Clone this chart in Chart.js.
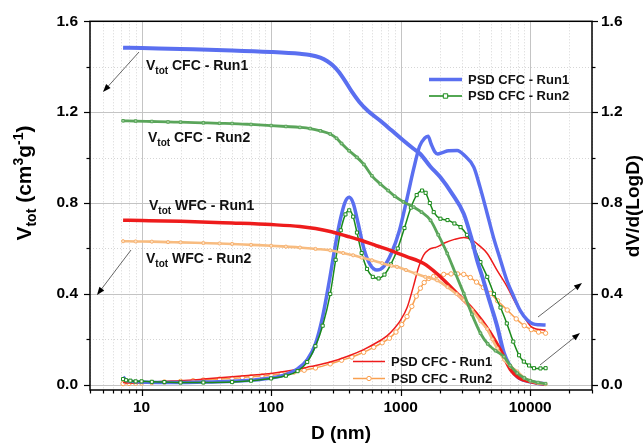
<!DOCTYPE html>
<html>
<head>
<meta charset="utf-8">
<script src="https://cdn.jsdelivr.net/npm/chart.js@4.4.0/dist/chart.umd.min.js"></script>
<style>
body { margin: 0; background: #fff; }
canvas { display: block; }
</style>
</head>
<body>
<canvas id="psdChart" width="644" height="445"></canvas>
<script>
// x tick labels (log axis, nm)
const xTickLabels = [10, 100, 1000, 10000];
const yTickLabels = [0, 0.4, 0.8, 1.2, 1.6];

// cumulative volume, CFC run 1 (blue, left axis)
const cumCfc1D = [7.2, 10, 20, 50, 100, 167, 200, 240, 270, 300, 330, 370, 420, 480, 560, 697, 850, 1050, 1250, 1419, 1700, 2028, 2500, 3070, 3500, 3890, 4300, 4660, 5100, 5570, 6270, 7000, 7950, 9000, 10000, 11500, 13150];
const cumCfc1V = [1.484, 1.482, 1.478, 1.472, 1.465, 1.457, 1.452, 1.44, 1.425, 1.405, 1.38, 1.34, 1.29, 1.245, 1.205, 1.162, 1.12, 1.075, 1.04, 1.016, 0.96, 0.913, 0.84, 0.753, 0.65, 0.548, 0.47, 0.402, 0.33, 0.256, 0.139, 0.08, 0.036, 0.02, 0.014, 0.007, 0.003];

// cumulative volume, CFC run 2 (green, left axis)
const cumCfc2D = [7.2, 9, 12, 16, 20, 30, 40, 50, 70, 100, 130, 167, 200, 240, 286, 320, 350, 400, 460, 520, 600, 697, 800, 900, 1050, 1262, 1450, 1700, 1950, 2290, 2650, 3070, 3550, 4130, 4700, 5400, 6270, 7000, 7950, 9000, 10000, 11500, 13150];
const cumCfc2V = [1.162, 1.161, 1.159, 1.157, 1.156, 1.153, 1.151, 1.15, 1.146, 1.141, 1.137, 1.133, 1.128, 1.118, 1.104, 1.085, 1.062, 1.03, 1.001, 0.97, 0.92, 0.884, 0.855, 0.83, 0.805, 0.782, 0.76, 0.724, 0.66, 0.578, 0.49, 0.402, 0.31, 0.227, 0.18, 0.15, 0.124, 0.085, 0.051, 0.03, 0.018, 0.01, 0.005];

// cumulative volume, WFC run 1 (red, left axis)
const cumWfc1D = [7.2, 10, 20, 50, 100, 167, 220, 286, 380, 500, 650, 832, 1100, 1507, 1900, 2290, 2800, 3460, 4200, 4940, 5900, 7050, 8200, 10000, 11500, 13150];
const cumWfc1V = [0.724, 0.723, 0.72, 0.712, 0.705, 0.697, 0.688, 0.675, 0.655, 0.635, 0.612, 0.592, 0.565, 0.534, 0.49, 0.446, 0.395, 0.343, 0.285, 0.227, 0.153, 0.066, 0.03, 0.014, 0.007, 0.003];

// cumulative volume, WFC run 2 (orange, left axis)
const cumWfc2D = [7.2, 9, 12, 16, 20, 30, 40, 50, 70, 100, 130, 167, 220, 286, 360, 430, 500, 600, 720, 850, 937, 1100, 1300, 1550, 1910, 2300, 2700, 3070, 3550, 4130, 4660, 5100, 5570, 6300, 7100, 7950, 9000, 10000, 11500, 13150];
const cumWfc2V = [0.632, 0.631, 0.63, 0.628, 0.627, 0.624, 0.622, 0.62, 0.616, 0.612, 0.608, 0.604, 0.598, 0.592, 0.58, 0.57, 0.56, 0.548, 0.535, 0.524, 0.519, 0.505, 0.49, 0.475, 0.46, 0.43, 0.4, 0.373, 0.33, 0.28, 0.245, 0.2, 0.16, 0.11, 0.08, 0.058, 0.03, 0.018, 0.008, 0.003];

// pore size distribution, blue (right axis)
const psdCfc1D = [7.2, 7.6, 8.5, 10, 15, 20, 30, 50, 70, 100, 130, 160, 190, 220, 250, 280, 310, 340, 370, 400, 430, 470, 520, 580, 656, 740, 850, 980, 1120, 1260, 1400, 1530, 1629, 1720, 1840, 1933, 2100, 2350, 2730, 3100, 3670, 4100, 4660, 5200, 5900, 6600, 7480, 8400, 9500, 10500, 11800, 13150];
const psdCfc1V = [0.035, 0.02, 0.015, 0.012, 0.01, 0.01, 0.012, 0.015, 0.02, 0.03, 0.045, 0.07, 0.11, 0.18, 0.3, 0.45, 0.6, 0.72, 0.8, 0.825, 0.8, 0.71, 0.6, 0.53, 0.505, 0.52, 0.58, 0.68, 0.82, 0.95, 1.05, 1.085, 1.094, 1.06, 1.025, 1.016, 1.022, 1.03, 1.031, 1.01, 0.958, 0.87, 0.753, 0.65, 0.548, 0.46, 0.387, 0.325, 0.285, 0.268, 0.264, 0.263];

// pore size distribution, green (right axis)
const psdCfc2D = [7.2, 7.6, 8.2, 9, 10, 12, 15, 20, 30, 50, 70, 100, 130, 160, 190, 220, 250, 286, 315, 345, 375, 401, 430, 460, 500, 550, 610, 676, 750, 840, 950, 1070, 1200, 1330, 1463, 1560, 1680, 1800, 2028, 2300, 2600, 2900, 3250, 3670, 4130, 4660, 5250, 5900, 6600, 7400, 8200, 8930, 9800, 10700, 12000, 13150];
const psdCfc2V = [0.025, 0.02, 0.018, 0.015, 0.015, 0.013, 0.012, 0.01, 0.01, 0.012, 0.018, 0.028, 0.04, 0.06, 0.1, 0.17, 0.26, 0.4, 0.55, 0.68, 0.75, 0.768, 0.74, 0.67, 0.58, 0.51, 0.475, 0.468, 0.485, 0.53, 0.6, 0.69, 0.78, 0.835, 0.855, 0.845, 0.8, 0.76, 0.731, 0.725, 0.71, 0.694, 0.66, 0.607, 0.54, 0.475, 0.4, 0.34, 0.27, 0.19, 0.13, 0.102, 0.085, 0.073, 0.072, 0.073];

// pore size distribution, red (right axis)
const psdWfc1D = [7.2, 8, 10, 15, 20, 30, 50, 70, 100, 150, 200, 286, 400, 518, 650, 785, 900, 1000, 1122, 1250, 1380, 1500, 1650, 1910, 2200, 2600, 3070, 3500, 4000, 4660, 5600, 6650, 7700, 8930, 10000, 10700, 12000, 13150];
const psdWfc1V = [0.01, 0.008, 0.01, 0.015, 0.018, 0.025, 0.035, 0.042, 0.05, 0.065, 0.08, 0.1, 0.128, 0.155, 0.185, 0.215, 0.25, 0.285, 0.34, 0.43, 0.52, 0.57, 0.595, 0.607, 0.625, 0.64, 0.648, 0.64, 0.615, 0.578, 0.5, 0.431, 0.36, 0.3, 0.26, 0.249, 0.243, 0.241];

// pore size distribution, orange (right axis)
const psdWfc2D = [7.2, 8, 9, 10, 12, 15, 20, 25, 30, 40, 50, 60, 70, 85, 100, 120, 150, 180, 220, 286, 350, 420, 518, 620, 720, 820, 920, 1020, 1120, 1220, 1320, 1420, 1520, 1650, 1800, 1910, 2150, 2450, 2750, 3070, 3450, 3850, 4350, 4940, 5600, 6650, 7800, 9000, 10200, 11600, 13150];
const psdWfc2V = [0.005, 0.006, 0.007, 0.008, 0.01, 0.012, 0.015, 0.018, 0.021, 0.025, 0.028, 0.032, 0.035, 0.039, 0.042, 0.048, 0.056, 0.064, 0.074, 0.092, 0.108, 0.122, 0.143, 0.165, 0.185, 0.205, 0.232, 0.265, 0.3, 0.345, 0.39, 0.425, 0.45, 0.468, 0.477, 0.482, 0.486, 0.488, 0.488, 0.486, 0.472, 0.452, 0.428, 0.402, 0.37, 0.329, 0.29, 0.26, 0.243, 0.232, 0.227];

function pts(xs, ys) {
    return xs.map((x, i) => ({ x: x, y: ys[i] }));
}

const FONT = 'Arial, "Liberation Sans", sans-serif';

function drawRich(ctx, parts, x, y, align) {
    // parts: [text, size, dy]
    let w = 0;
    parts.forEach(p => {
        ctx.font = 'bold ' + p[1] + 'px ' + FONT;
        w += ctx.measureText(p[0]).width;
    });
    let cx = align === 'center' ? x - w / 2 : x;
    ctx.textAlign = 'left';
    ctx.textBaseline = 'alphabetic';
    parts.forEach(p => {
        ctx.font = 'bold ' + p[1] + 'px ' + FONT;
        ctx.fillText(p[0], cx, y + p[2]);
        cx += ctx.measureText(p[0]).width;
    });
}

function arrow(ctx, x1, y1, x2, y2) {
    const ang = Math.atan2(y2 - y1, x2 - x1);
    ctx.strokeStyle = '#555';
    ctx.lineWidth = 0.9;
    ctx.beginPath();
    ctx.moveTo(x1, y1);
    ctx.lineTo(x2 - 5 * Math.cos(ang), y2 - 5 * Math.sin(ang));
    ctx.stroke();
    ctx.fillStyle = '#000';
    ctx.beginPath();
    ctx.moveTo(x2, y2);
    ctx.lineTo(x2 - 8 * Math.cos(ang) + 3 * Math.sin(ang), y2 - 8 * Math.sin(ang) - 3 * Math.cos(ang));
    ctx.lineTo(x2 - 8 * Math.cos(ang) - 3 * Math.sin(ang), y2 - 8 * Math.sin(ang) + 3 * Math.cos(ang));
    ctx.closePath();
    ctx.fill();
}

function legendRow(ctx, ds, x1, x2, y, label) {
    ctx.save();
    ctx.strokeStyle = ds.borderColor;
    ctx.lineWidth = ds.borderWidth;
    ctx.beginPath();
    ctx.moveTo(x1, y);
    ctx.lineTo(x2, y);
    ctx.stroke();
    if (ds.pointRadius > 0) {
        const mx = (x1 + x2) / 2, r = 2.2;
        ctx.fillStyle = '#fff';
        ctx.lineWidth = 1;
        ctx.beginPath();
        if (ds.pointStyle === 'rect') ctx.rect(mx - r, y - r, 2 * r, 2 * r);
        else ctx.arc(mx, y, r, 0, Math.PI * 2);
        ctx.fill();
        ctx.stroke();
    }
    ctx.fillStyle = '#111';
    ctx.font = 'bold 13px ' + FONT;
    ctx.textBaseline = 'middle';
    ctx.textAlign = 'left';
    ctx.fillText(label, x2 + 6, y + 0.5);
    ctx.restore();
}

const decor = {
    id: 'decor',
    beforeDatasetsDraw(chart) {
        const ctx = chart.ctx, a = chart.chartArea;
        const xs = chart.scales.x, ys = chart.scales.y;
        ctx.save();
        ctx.lineWidth = 1;
        // minor grid, dotted
        ctx.strokeStyle = '#d6d6d6';
        ctx.setLineDash([1, 2]);
        for (let e = 0; e <= 4; e++) {
            for (let m = 2; m <= 9; m++) {
                const v = m * Math.pow(10, e);
                if (v < 4 || v > 30000) continue;
                const px = Math.round(xs.getPixelForValue(v)) + 0.5;
                ctx.beginPath(); ctx.moveTo(px, a.top); ctx.lineTo(px, a.bottom); ctx.stroke();
            }
        }
        [0.2, 0.6, 1.0, 1.4].forEach(v => {
            const py = Math.round(ys.getPixelForValue(v)) + 0.5;
            ctx.beginPath(); ctx.moveTo(a.left, py); ctx.lineTo(a.right, py); ctx.stroke();
        });
        // major grid
        ctx.setLineDash([]);
        ctx.strokeStyle = '#c4c4c4';
        xTickLabels.forEach(v => {
            const px = Math.round(xs.getPixelForValue(v)) + 0.5;
            ctx.beginPath(); ctx.moveTo(px, a.top); ctx.lineTo(px, a.bottom); ctx.stroke();
        });
        [0, 0.4, 0.8, 1.2].forEach(v => {
            const py = Math.round(ys.getPixelForValue(v)) + 0.5;
            ctx.beginPath(); ctx.moveTo(a.left, py); ctx.lineTo(a.right, py); ctx.stroke();
        });
        ctx.restore();
    },
    afterDraw(chart) {
        const ctx = chart.ctx, a = chart.chartArea;
        const xs = chart.scales.x, ys = chart.scales.y;
        const ds = chart.data.datasets;
        ctx.save();
        // frame
        ctx.strokeStyle = '#000';
        ctx.lineWidth = 1.5;
        ctx.strokeRect(a.left, a.top, a.right - a.left, a.bottom - a.top);
        ctx.lineWidth = 1.2;
        // x ticks
        for (let e = 0; e <= 4; e++) {
            for (let m = 1; m <= 9; m++) {
                const v = m * Math.pow(10, e);
                if (v < 4 || v > 30000) continue;
                const px = Math.round(xs.getPixelForValue(v)) + 0.5;
                const len = m === 1 ? 6 : 3.5;
                ctx.beginPath(); ctx.moveTo(px, a.bottom); ctx.lineTo(px, a.bottom + len); ctx.stroke();
            }
        }
        // y ticks both sides
        for (let i = 0; i <= 8; i++) {
            const v = i * 0.2;
            const py = Math.round(ys.getPixelForValue(v)) + 0.5;
            const len = i % 2 === 0 ? 6 : 3.5;
            ctx.beginPath(); ctx.moveTo(a.left - len, py); ctx.lineTo(a.left, py); ctx.stroke();
            ctx.beginPath(); ctx.moveTo(a.right, py); ctx.lineTo(a.right + len, py); ctx.stroke();
        }
        ctx.fillStyle = '#000';
        // axis titles
        ctx.save();
        ctx.translate(24, 183);
        ctx.rotate(-Math.PI / 2);
        drawRich(ctx, [['V', 21, 0], ['tot', 14, 5], [' (cm', 21, 0], ['3', 14, -8], ['g', 21, 0], ['-1', 14, -8], [')', 21, 0]], 0, 7, 'center');
        ctx.restore();
        ctx.save();
        ctx.translate(632, 206);
        ctx.rotate(-Math.PI / 2);
        drawRich(ctx, [['dV/d(LogD)', 19, 0]], 0, 7, 'center');
        ctx.restore();
        drawRich(ctx, [['D (nm)', 19, 0]], (a.left + a.right) / 2, 439, 'center');
        // curve labels
        ctx.fillStyle = '#111';
        drawRich(ctx, [['V', 14, 0], ['tot', 10, 4], [' CFC - Run1', 14, 0]], 146, 70, 'left');
        drawRich(ctx, [['V', 14, 0], ['tot', 10, 4], [' CFC - Run2', 14, 0]], 148, 142, 'left');
        drawRich(ctx, [['V', 14, 0], ['tot', 10, 4], [' WFC - Run1', 14, 0]], 149, 210, 'left');
        drawRich(ctx, [['V', 14, 0], ['tot', 10, 4], [' WFC - Run2', 14, 0]], 146, 263, 'left');
        // arrows
        arrow(ctx, 139, 52, 103, 92);
        arrow(ctx, 131, 250, 97, 295);
        arrow(ctx, 538, 317, 582, 283);
        arrow(ctx, 540, 365, 580, 333);
        // in-plot legends
        legendRow(ctx, ds[5], 429, 462, 79.5, ds[5].label);
        legendRow(ctx, ds[4], 429, 462, 96, ds[4].label);
        legendRow(ctx, ds[6], 353, 385, 361.5, ds[6].label);
        legendRow(ctx, ds[7], 353, 385, 378.5, ds[7].label);
        ctx.restore();
    }
};

const tickFont = { family: FONT, size: 15.5, weight: 'bold' };

new Chart(document.getElementById('psdChart').getContext('2d'), {
    type: 'line',
    data: {
        datasets: [{
            label: 'Vtot CFC - Run2',
            data: pts(cumCfc2D, cumCfc2V),
            yAxisID: 'y',
            borderColor: '#5aa55a',
            borderWidth: 2.8,
            pointStyle: 'rect',
            pointRadius: 1.8,
            pointBorderWidth: 1,
            pointBackgroundColor: '#a8d4a8',
            pointBorderColor: '#5aa55a'
        }, {
            label: 'Vtot WFC - Run2',
            data: pts(cumWfc2D, cumWfc2V),
            yAxisID: 'y',
            borderColor: '#f8bc80',
            borderWidth: 2.6,
            pointRadius: 1.6,
            pointBorderWidth: 1,
            pointBackgroundColor: '#fde2c4',
            pointBorderColor: '#f6b070'
        }, {
            label: 'Vtot WFC - Run1',
            data: pts(cumWfc1D, cumWfc1V),
            yAxisID: 'y',
            borderColor: '#ee1c1c',
            borderWidth: 3.5,
            pointRadius: 0
        }, {
            label: 'Vtot CFC - Run1',
            data: pts(cumCfc1D, cumCfc1V),
            yAxisID: 'y',
            borderColor: '#5a6ff0',
            borderWidth: 4,
            pointRadius: 0
        }, {
            label: 'PSD CFC - Run2',
            data: pts(psdCfc2D, psdCfc2V),
            yAxisID: 'y2',
            borderColor: '#1a8a1a',
            borderWidth: 1.5,
            pointStyle: 'rect',
            pointRadius: 2.2,
            pointBorderWidth: 1,
            pointBackgroundColor: '#fff',
            pointBorderColor: '#1a8a1a'
        }, {
            label: 'PSD CFC - Run1',
            data: pts(psdCfc1D, psdCfc1V),
            yAxisID: 'y2',
            borderColor: '#5a6ff0',
            borderWidth: 3.5,
            pointRadius: 0
        }, {
            label: 'PSD CFC - Run1',
            data: pts(psdWfc1D, psdWfc1V),
            yAxisID: 'y2',
            borderColor: '#ee1c1c',
            borderWidth: 1.5,
            pointRadius: 0
        }, {
            label: 'PSD CFC - Run2',
            data: pts(psdWfc2D, psdWfc2V),
            yAxisID: 'y2',
            borderColor: '#f9a050',
            borderWidth: 1.5,
            pointRadius: 2.2,
            pointBorderWidth: 1,
            pointBackgroundColor: '#fff',
            pointBorderColor: '#f9a050'
        }]
    },
    options: {
        responsive: false,
        animation: false,
        layout: { padding: { top: 20, left: 0, right: 0, bottom: 0 } },
        plugins: { legend: { display: false }, tooltip: { enabled: false } },
        elements: { line: { cubicInterpolationMode: 'monotone' } },
        scales: {
            x: {
                type: 'logarithmic',
                min: 4,
                max: 30000,
                afterBuildTicks: s => { s.ticks = xTickLabels.map(v => ({ value: v })); },
                afterFit: s => { s.height = 55; },
                grid: { display: false, drawTicks: false },
                border: { display: false },
                ticks: { font: tickFont, color: '#000', padding: 8, maxRotation: 0, autoSkip: false, callback: v => String(v) }
            },
            y: {
                position: 'left',
                min: -0.023,
                max: 1.6,
                afterBuildTicks: s => { s.ticks = yTickLabels.map(v => ({ value: v })); },
                afterFit: s => { s.width = 90; },
                grid: { display: false, drawTicks: false },
                border: { display: false },
                ticks: { font: tickFont, color: '#000', padding: 12, callback: v => v.toFixed(1) }
            },
            y2: {
                position: 'right',
                min: -0.023,
                max: 1.6,
                afterBuildTicks: s => { s.ticks = yTickLabels.map(v => ({ value: v })); },
                afterFit: s => { s.width = 52; },
                grid: { display: false, drawTicks: false },
                border: { display: false },
                ticks: { font: tickFont, color: '#000', padding: 9, callback: v => v.toFixed(1) }
            }
        }
    },
    plugins: [decor]
});
</script>
</body>
</html>
